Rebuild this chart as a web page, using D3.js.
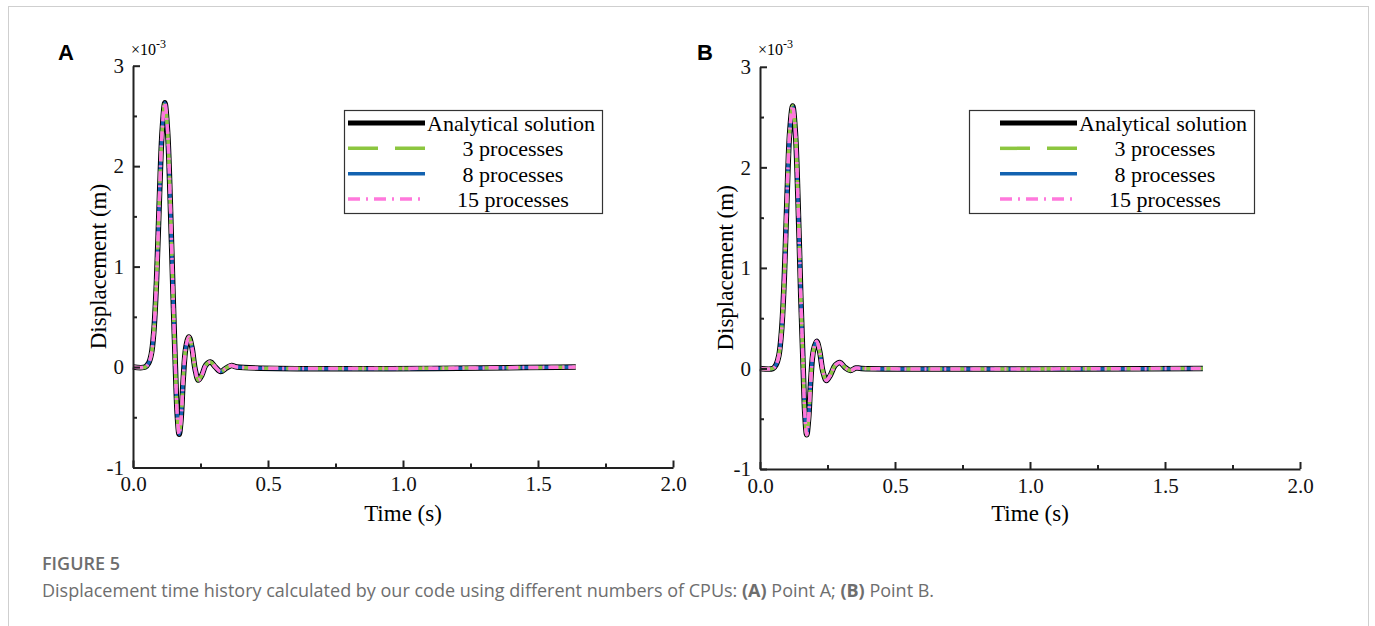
<!DOCTYPE html>
<html>
<head>
<meta charset="utf-8">
<script src="https://cdn.jsdelivr.net/npm/d3@7"></script>
<style>
  body { margin: 0; background: #fff; }
  svg { display: block; }
</style>
</head>
<body>
<div id="container"></div>
<script>
let w = 1375;
let h = 626;

// DATA (displacement in 1e-3 m)
let timeA = [0, 0.045, 0.058, 0.068, 0.077, 0.087, 0.098, 0.108, 0.118, 0.128, 0.138, 0.148, 0.157, 0.164, 0.171, 0.178, 0.186, 0.196, 0.207, 0.218, 0.23, 0.242, 0.255, 0.27, 0.287, 0.305, 0.325, 0.345, 0.365, 0.385, 1.64];
let dispA = [0, 0, 0.04, 0.13, 0.35, 0.85, 1.7, 2.35, 2.63, 2.35, 1.65, 0.75, 0.0, -0.48, -0.67, -0.52, -0.12, 0.2, 0.3, 0.2, -0.02, -0.13, -0.08, 0.02, 0.05, 0.0, -0.045, -0.01, 0.015, 0, 0];
let timeB = [0, 0.048, 0.06, 0.07, 0.08, 0.09, 0.1, 0.11, 0.121, 0.131, 0.141, 0.151, 0.16, 0.166, 0.173, 0.18, 0.188, 0.198, 0.21, 0.221, 0.233, 0.246, 0.26, 0.278, 0.296, 0.315, 0.335, 0.355, 0.375, 1.64];
let dispB = [0, 0, 0.04, 0.13, 0.38, 0.9, 1.7, 2.35, 2.61, 2.35, 1.65, 0.72, 0.0, -0.45, -0.66, -0.5, -0.12, 0.18, 0.27, 0.17, -0.03, -0.12, -0.07, 0.03, 0.06, 0.01, -0.02, 0.005, 0, 0];

// all four series lie on top of each other
let seriesNames = ["Analytical solution", "3 processes", "8 processes", "15 processes"];
let drawOrder = [0, 2, 1, 3];

let xTicks = [0, 0.5, 1.0, 1.5, 2.0];
let xMinor = [0.25, 0.75, 1.25, 1.75];
let yTicks = [-1, 0, 1, 2, 3];
let yMinor = [-0.5, 0.5, 1.5, 2.5];

let styles = [
  { color: "#000000", width: 5.5, dash: null },
  { color: "#8cc63f", width: 3.5, dash: "14,8" },
  { color: "#1262b0", width: 3.5, dash: null },
  { color: "#ff78dc", width: 3.5, dash: "10,4,2,4" }
];

let serif = "'Liberation Serif', 'Times New Roman', serif";

let viz = d3.select("#container").append("svg")
    .attr("width", w)
    .attr("height", h)
    .style("background-color", "white");

// figure frame
viz.append("rect")
  .attr("x", 8.5).attr("y", 6.5)
  .attr("width", 1360).attr("height", 700)
  .attr("fill", "none")
  .attr("stroke", "#cfcfcf");

let panels = [
  { letter: "A", t: timeA, v: dispA, x0: 133, x1: 673, y0: 467.5, y1: 65.7, letterX: 58,
    legend: { x: 344, y: 110, w: 258, h: 103, lineX: 348, lineLen: 77 } },
  { letter: "B", t: timeB, v: dispB, x0: 760, x1: 1300, y0: 469, y1: 66.8, letterX: 697,
    legend: { x: 969, y: 110, w: 285, h: 103, lineX: 1000, lineLen: 77 } }
];

panels.forEach(function(p) {
  let xScale = d3.scaleLinear().domain([0, 2]).range([p.x0, p.x1]);
  let yScale = d3.scaleLinear().domain([-1, 3]).range([p.y0, p.y1]);
  let g = viz.append("g");

  // panel letter
  g.append("text")
    .attr("x", p.letterX).attr("y", 60)
    .attr("font-family", "'Liberation Sans', Arial, sans-serif")
    .attr("font-weight", "bold")
    .attr("font-size", 22)
    .text(p.letter);

  // x10^-3
  let mult = g.append("text")
    .attr("x", p.x0 - 2).attr("y", 55)
    .attr("font-family", serif)
    .attr("font-size", 16);
  mult.append("tspan").text("×10");
  mult.append("tspan").attr("dy", -7).attr("font-size", 12).text("-3");

  // CURVES
  let lineMaker = d3.line()
    .x(function(d){ return xScale(d[0]); })
    .y(function(d){ return yScale(d[1]); })
    .curve(d3.curveCatmullRom.alpha(0.5));
  let pts = p.t.map(function(t, i){ return [t, p.v[i]]; });

  g.selectAll(".series").data(drawOrder).enter()
    .append("path")
      .attr("class", "series")
      .attr("d", lineMaker(pts))
      .attr("fill", "none")
      .attr("stroke", function(d){ return styles[d].color; })
      .attr("stroke-width", function(d){ return styles[d].width; })
      .attr("stroke-dasharray", function(d){ return styles[d].dash; })
      .attr("stroke-linejoin", "round");

  // AXES
  g.append("g").attr("transform", "translate(0," + p.y0 + ")")
    .call(d3.axisBottom(xScale).tickValues(xTicks).tickSize(-7).tickSizeOuter(0).tickPadding(9)
      .tickFormat(d3.format(".1f")));
  let xMin = g.append("g").attr("transform", "translate(0," + p.y0 + ")")
    .call(d3.axisBottom(xScale).tickValues(xMinor).tickSize(-4).tickFormat(""));
  xMin.select(".domain").remove();

  g.append("g").attr("transform", "translate(" + p.x0 + ",0)")
    .call(d3.axisLeft(yScale).tickValues(yTicks).tickSize(-7).tickSizeOuter(0).tickPadding(9)
      .tickFormat(function(d){ return String(d); }));
  let yMin = g.append("g").attr("transform", "translate(" + p.x0 + ",0)")
    .call(d3.axisLeft(yScale).tickValues(yMinor).tickSize(-4).tickFormat(""));
  yMin.select(".domain").remove();

  g.selectAll(".domain, .tick line")
    .attr("stroke", "#222")
    .attr("stroke-width", 2);
  g.selectAll(".tick text")
    .attr("font-family", serif)
    .attr("font-size", 21)
    .attr("fill", "#111");

  // axis titles
  g.append("text")
    .attr("x", (p.x0 + p.x1) / 2).attr("y", 521)
    .attr("text-anchor", "middle")
    .attr("font-family", serif)
    .attr("font-size", 23)
    .text("Time (s)");
  g.append("text")
    .attr("transform", "translate(" + (p.x0 - 27) + "," + ((p.y0 + p.y1) / 2) + ") rotate(-90)")
    .attr("text-anchor", "middle")
    .attr("font-family", serif)
    .attr("font-size", 23)
    .text("Displacement (m)");

  // LEGEND
  let L = p.legend;
  g.append("rect")
    .attr("x", L.x + 0.5).attr("y", L.y + 0.5)
    .attr("width", L.w).attr("height", L.h)
    .attr("fill", "white")
    .attr("stroke", "#333")
    .attr("stroke-width", 1.2);
  let rowY = d3.scalePoint().domain(seriesNames).range([L.y + 13, L.y + 89]);
  let rows = g.selectAll(".leg").data(seriesNames).enter().append("g").attr("class", "leg");
  rows.append("line")
    .attr("x1", L.lineX).attr("x2", L.lineX + L.lineLen)
    .attr("y1", function(d){ return rowY(d); })
    .attr("y2", function(d){ return rowY(d); })
    .attr("stroke", function(d, i){ return styles[i].color; })
    .attr("stroke-width", function(d, i){ return i == 0 ? 5 : 3.5; })
    .attr("stroke-dasharray", function(d, i){ return i == 1 ? "30,17" : (i == 3 ? "12,6,2,6" : null); });
  rows.append("text")
    .attr("x", function(d, i){ return i == 0 ? L.lineX + L.lineLen + 2 : L.lineX + L.lineLen + 88; })
    .attr("y", function(d){ return rowY(d) + 8; })
    .attr("text-anchor", function(d, i){ return i == 0 ? "start" : "middle"; })
    .attr("font-family", serif)
    .attr("font-size", 22)
    .text(function(d){ return d; });
});

// CAPTION
let sans = "'Open Sans', 'Noto Sans', sans-serif";
viz.append("text")
  .attr("x", 42).attr("y", 570)
  .attr("font-family", sans)
  .attr("font-size", 18)
  .attr("font-weight", 600)
  .attr("fill", "#6e6e6e")
  .text("FIGURE 5");
let cap = viz.append("text")
  .attr("x", 42).attr("y", 597)
  .attr("font-family", sans)
  .attr("font-size", 18)
  .attr("fill", "#6e6e6e");
cap.append("tspan").text("Displacement time history calculated by our code using different numbers of CPUs: ");
cap.append("tspan").attr("font-weight", "bold").text("(A)");
cap.append("tspan").text(" Point A; ");
cap.append("tspan").attr("font-weight", "bold").text("(B)");
cap.append("tspan").text(" Point B.");
</script>
</body>
</html>
